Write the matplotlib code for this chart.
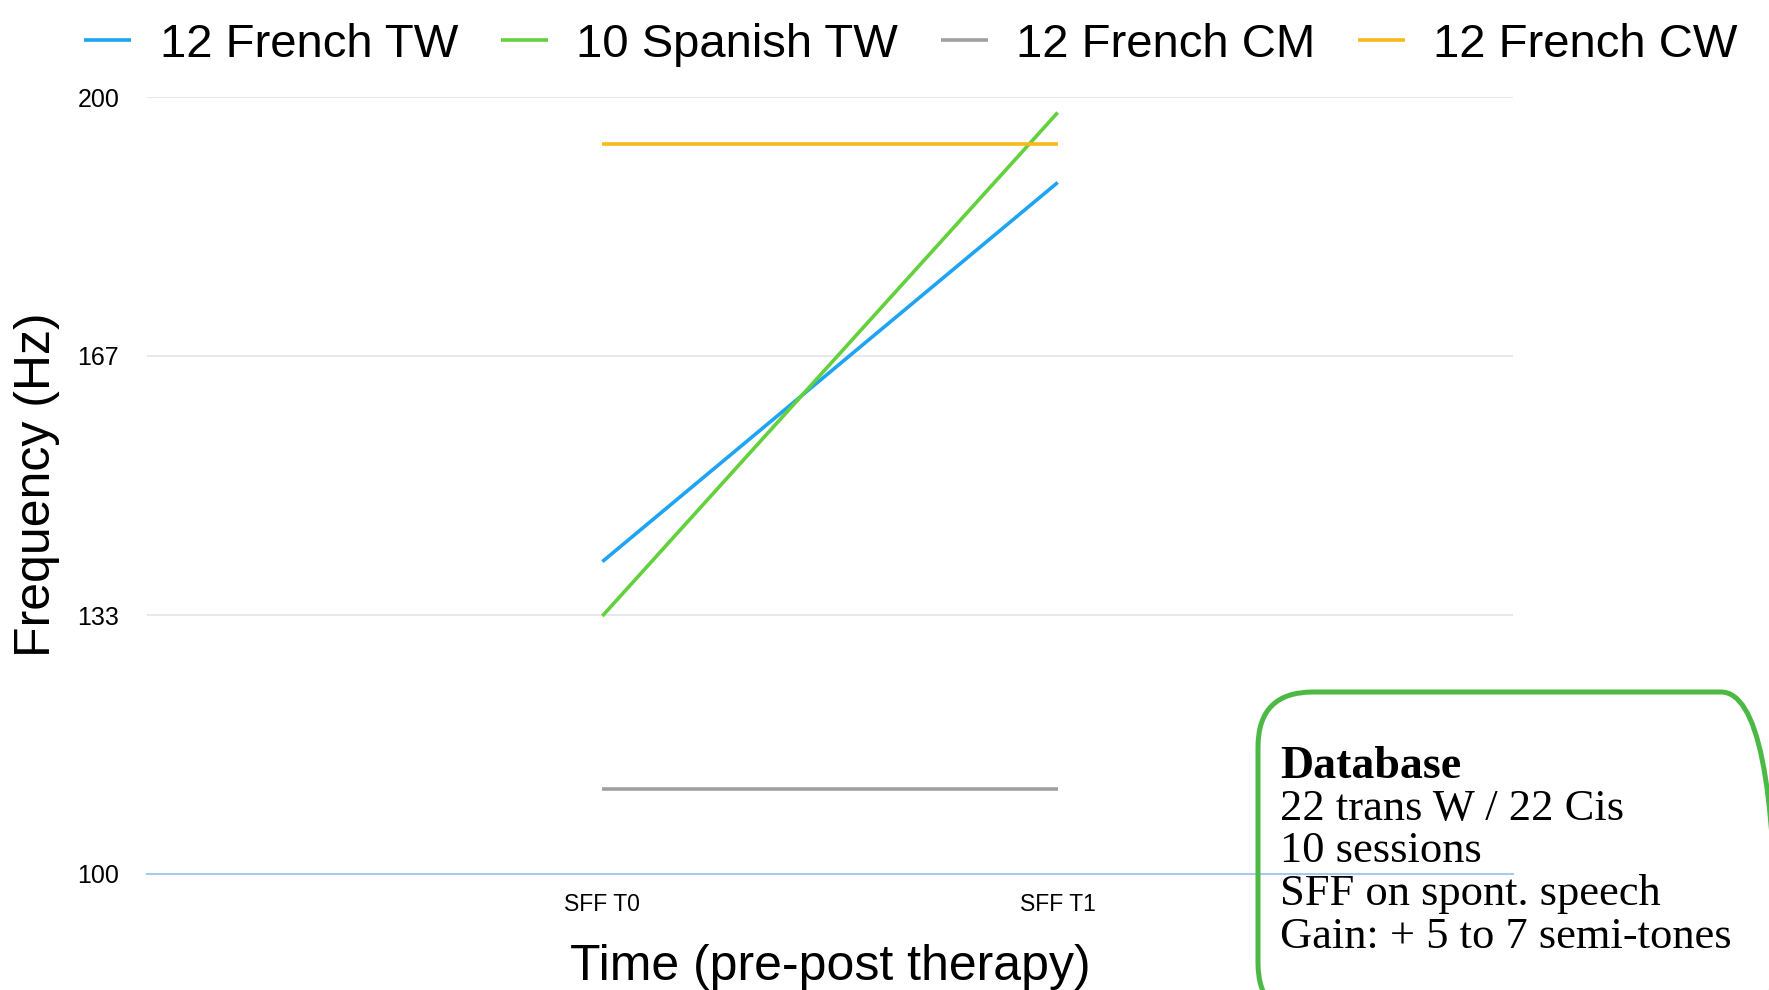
import matplotlib
matplotlib.use("Agg")
import matplotlib.pyplot as plt
from matplotlib.patches import FancyBboxPatch

# data
categories = ["SFF T0", "SFF T1"]
series_names = ["12 French TW", "10 Spanish TW", "12 French CM", "12 French CW"]
french_tw = [140.2, 189.0]
spanish_tw = [133.2, 198.0]
french_cm = [111.0, 111.0]
french_cw = [194.0, 194.0]
y_ticks = [100, 133.33, 166.67, 200]
y_tick_labels = ["100", "133", "167", "200"]
box_title = "Database"
box_lines = ["22 trans W / 22 Cis", "10 sessions", "SFF on spont. speech",
             "Gain: + 5 to 7 semi-tones"]

colors = ["#1fa4f4", "#62d13c", "#a0a0a0", "#f8b91a"]
sans = ["Liberation Sans", "DejaVu Sans"]
serif = ["Liberation Serif", "DejaVu Serif"]

fig = plt.figure(figsize=(17.69, 9.9), dpi=100)
ax = fig.add_axes([0.0831, 0.1172, 0.7722, 0.7848])

x = list(range(len(categories)))
all_series = [french_tw, spanish_tw, french_cm, french_cw]
for name, vals, c in zip(series_names, all_series, colors):
    ax.plot(x, vals, color=c, linewidth=2.6, label=name, solid_capstyle="butt")

ax.set_xlim(-1, 2)
ax.set_ylim(100, 200)
ax.set_yticks(y_ticks)
ax.set_yticklabels(y_tick_labels, fontsize=18, family=sans)
ax.set_xticks(x)
ax.set_xticklabels(categories, fontsize=16.5, family=sans)
ax.tick_params(length=0, pad=14)
ax.tick_params(axis="y", pad=20)
for t in y_ticks[1:]:
    ax.axhline(t, color="#e4e4e4", linewidth=1.2, zorder=0)
ax.axhline(100, color="#a8c8f0", linewidth=1.5, zorder=0, clip_on=False)
for s in ax.spines.values():
    s.set_visible(False)

ax.set_xlabel("Time (pre-post therapy)", fontsize=36, family=sans, labelpad=20)
fig.text(0.021, 0.51, "Frequency (Hz)", rotation=90, fontsize=36, family=sans,
         ha="center", va="center")

fig.legend(loc="upper center", bbox_to_anchor=(0.515, 1.02), ncol=4, frameon=False,
           prop={"family": sans, "size": 34}, handlelength=1.0,
           handletextpad=0.6, columnspacing=0.9)

# info box in the lower right corner, running off the page edges (inches)
box = FancyBboxPatch((12.58, -0.28), 5.18, 3.26,
                     boxstyle="round,pad=0,rounding_size=0.55",
                     transform=fig.dpi_scale_trans, fill=False,
                     edgecolor="#4cb944", linewidth=3.6, clip_on=False)
fig.patches.append(box)
fig.text(1280 / 1769, 1 - 767 / 990, box_title, fontsize=33, family=serif,
         weight="bold", va="center", ha="left")
for i, line in enumerate(box_lines):
    fig.text(1280 / 1769, 1 - (809 + 42.5 * i) / 990, line, fontsize=32,
             family=serif, va="center", ha="left")

fig.savefig("out.png", dpi=100)
